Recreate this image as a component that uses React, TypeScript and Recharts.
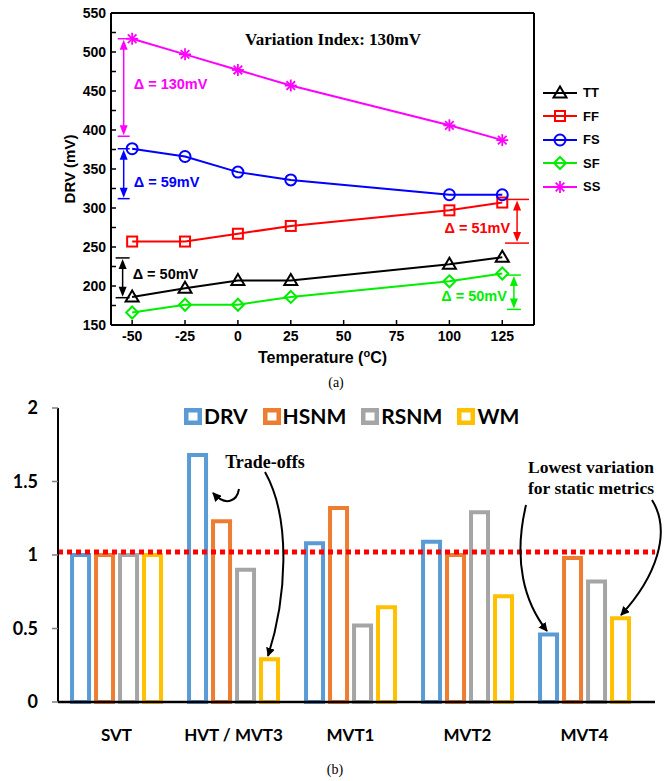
import React from "react";
import { LineChart, Line, XAxis, YAxis, ReferenceLine, Legend, BarChart, Bar } from "recharts";

// (a) DRV vs temperature per corner
const temps = [-50, -25, 0, 25, 100, 125];
const tt = [186, 197, 207, 207, 228, 237];
const ff = [257, 257, 267, 277, 297, 307];
const fs = [376, 366, 346, 336, 317, 317];
const sf = [166, 176, 176, 186, 206, 216];
const ss = [517, 497, 477, 457, 406, 387];
const tempTicks = [-50, -25, 0, 25, 50, 75, 100, 125];
const drvTicks = [150, 175, 200, 225, 250, 275, 300, 325, 350, 375, 400, 425, 450, 475, 500, 525, 550];

// spread annotations (mV)
const deltaX = [-54, -54, -54.5, 132, 130.5];
const deltaHigh = [517, 376, 236, 311, 214];
const deltaLow = [392, 312, 185, 255, 170];
const deltaText = ["Δ = 130mV", "Δ = 59mV", "Δ = 50mV", "Δ = 51mV", "Δ = 50mV"];
const deltaTextY = [459, 333, 215, 274, 187];

// (b) normalised variation
const groups = ["SVT", "HVT / MVT3", "MVT1", "MVT2", "MVT4"];
const drv = [1, 1.68, 1.08, 1.09, 0.46];
const hsnm = [1, 1.23, 1.32, 1.0, 0.98];
const rsnm = [1, 0.9, 0.52, 1.29, 0.82];
const wm = [1, 0.29, 0.645, 0.72, 0.57];
const ratioTicks = [0, 0.5, 1, 1.5, 2];
const baseline = 1.02;

const series = [
  { key: "TT", values: tt, color: "#000000", shape: "tri" },
  { key: "FF", values: ff, color: "#ff0000", shape: "sq" },
  { key: "FS", values: fs, color: "#0000ff", shape: "circ" },
  { key: "SF", values: sf, color: "#00ee00", shape: "dia" },
  { key: "SS", values: ss, color: "#ff00ff", shape: "star" },
];
const deltaColor = ["#ff00ff", "#0000ff", "#000000", "#ff0000", "#00ee00"];
const deltaCap = [6, 6, 7, 12, 7];
const deltaSide = ["right", "right", "right", "left", "left"];

const bars = [
  { key: "DRV", values: drv, color: "#5b9bd5" },
  { key: "HSNM", values: hsnm, color: "#ed7d31" },
  { key: "RSNM", values: rsnm, color: "#a5a5a5" },
  { key: "WM", values: wm, color: "#ffc000" },
];

const tempRows = temps.map((t, i) => {
  const row: any = { t };
  series.forEach((s) => (row[s.key] = s.values[i]));
  return row;
});
const groupRows = groups.map((g, i) => {
  const row: any = { g };
  bars.forEach((b) => (row[b.key] = b.values[i]));
  return row;
});

const arial = "'Liberation Sans', Arial, sans-serif";
const serif = "'Liberation Serif', 'Times New Roman', serif";
const calibri = "Lato, 'Open Sans', sans-serif";
const axisFont = { fontFamily: arial, fontWeight: 700, fontSize: 14, fill: "#000" };
const frameLine = { stroke: "#000", strokeWidth: 2 };
const frameTick = { stroke: "#000", strokeWidth: 1.5 };

function marker(shape: string, color: string, cx: number, cy: number) {
  if (shape === "tri")
    return <polygon points={`${cx},${cy - 6.5} ${cx - 6.5},${cy + 4.5} ${cx + 6.5},${cy + 4.5}`} fill="none" stroke={color} strokeWidth={2} />;
  if (shape === "sq")
    return <rect x={cx - 5} y={cy - 5} width={10} height={10} fill="none" stroke={color} strokeWidth={2} />;
  if (shape === "circ") return <circle cx={cx} cy={cy} r={5.5} fill="none" stroke={color} strokeWidth={2} />;
  if (shape === "dia")
    return <polygon points={`${cx},${cy - 6} ${cx + 6},${cy} ${cx},${cy + 6} ${cx - 6},${cy}`} fill="none" stroke={color} strokeWidth={2} />;
  return (
    <g stroke={color} strokeWidth={1.8}>
      <line x1={cx - 6} y1={cy} x2={cx + 6} y2={cy} />
      <line x1={cx} y1={cy - 6} x2={cx} y2={cy + 6} />
      <line x1={cx - 4.3} y1={cy - 4.3} x2={cx + 4.3} y2={cy + 4.3} />
      <line x1={cx - 4.3} y1={cy + 4.3} x2={cx + 4.3} y2={cy - 4.3} />
    </g>
  );
}

const dotFor = (shape: string, color: string) => (p: any) => {
  if (p.cx == null || p.cy == null) return <g key={p.key} />;
  return <g key={p.key}>{marker(shape, color, p.cx, p.cy)}</g>;
};

const deltaShape = (i: number) => (p: any) => {
  const { x1, y1, x2, y2 } = p;
  const c = deltaColor[i];
  const half = deltaCap[i];
  const perMv = (y2 - y1) / (deltaLow[i] - deltaHigh[i]);
  const ty = y1 + (deltaTextY[i] - deltaHigh[i]) * perMv;
  const right = deltaSide[i] === "right";
  return (
    <g>
      <line x1={x1 - half} x2={x1 + half} y1={y1} y2={y1} stroke={c} strokeWidth={1.5} />
      <line x1={x2 - half} x2={x2 + half} y1={y2} y2={y2} stroke={c} strokeWidth={1.5} />
      <line x1={x1} y1={y1 + 6} x2={x2} y2={y2 - 6} stroke={c} strokeWidth={1.5} />
      <polygon points={`${x1},${y1 + 1} ${x1 - 4},${y1 + 11} ${x1 + 4},${y1 + 11}`} fill={c} />
      <polygon points={`${x2},${y2 - 1} ${x2 - 4},${y2 - 11} ${x2 + 4},${y2 - 11}`} fill={c} />
      <text
        x={right ? x1 + 10 : x1 - 7}
        y={ty}
        textAnchor={right ? "start" : "end"}
        dominantBaseline="central"
        fontFamily={arial}
        fontWeight={700}
        fontSize={14.5}
        fill={c}
      >
        {deltaText[i]}
      </text>
    </g>
  );
};

const renderTempLabel = (p: any) => {
  const vb = p.viewBox || {};
  return (
    <text x={vb.x + vb.width / 2} y={vb.y + 38} textAnchor="middle" fontFamily={arial} fontWeight={700} fontSize={16} fill="#000">
      Temperature (<tspan dy={-6} fontSize={11}>o</tspan>
      <tspan dy={6}>C)</tspan>
    </text>
  );
};

const LegendA = () => (
  <div style={{ display: "flex", flexDirection: "column" }}>
    {series.map((s) => (
      <div key={s.key} style={{ display: "flex", alignItems: "center", height: 23.5 }}>
        <svg width={40} height={20}>
          <line x1={3} x2={37} y1={10} y2={10} stroke={s.color} strokeWidth={2} />
          {marker(s.shape, s.color, 20, 10)}
        </svg>
        <span style={{ fontFamily: arial, fontWeight: 700, fontSize: 13, marginLeft: 3 }}>{s.key}</span>
      </div>
    ))}
  </div>
);

const LegendB = () => (
  <div style={{ display: "flex", alignItems: "center", gap: 15 }}>
    {bars.map((b) => (
      <div key={b.key} style={{ display: "flex", alignItems: "center" }}>
        <svg width={18} height={17}>
          <rect x={2.25} y={2.25} width={13.5} height={12.5} fill="#fff" stroke={b.color} strokeWidth={4.5} />
        </svg>
        <span style={{ fontFamily: calibri, fontWeight: 700, fontSize: 21, marginLeft: 2, lineHeight: "26px" }}>{b.key}</span>
      </div>
    ))}
  </div>
);

export default function App() {
  return (
    <div style={{ position: "absolute", left: 0, top: 0, width: 671, height: 781, background: "#fff" }}>
      <div style={{ position: "absolute", left: 0, top: 0 }}>
        <LineChart width={671} height={370} data={tempRows} margin={{ top: 12, right: 136, bottom: 0, left: 0 }}>
          <XAxis
            dataKey="t"
            type="number"
            domain={[-60, 140]}
            ticks={tempTicks}
            allowDataOverflow
            interval={0}
            height={45}
            axisLine={frameLine}
            tickLine={frameTick}
            tickSize={-5}
            tickMargin={11}
            tick={axisFont}
            label={renderTempLabel}
          />
          <XAxis
            xAxisId="top"
            dataKey="t"
            orientation="top"
            type="number"
            domain={[-60, 140]}
            ticks={tempTicks}
            allowDataOverflow
            interval={0}
            height={1}
            axisLine={frameLine}
            tickLine={frameTick}
            tickSize={-5}
            tick={false}
          />
          <YAxis
            type="number"
            domain={[150, 550]}
            ticks={drvTicks}
            allowDataOverflow
            interval={0}
            width={111}
            axisLine={frameLine}
            tickLine={frameTick}
            tickSize={-5}
            tickMargin={10}
            tick={axisFont}
            tickFormatter={(v: number) => (v % 50 === 0 ? String(v) : "")}
            label={{
              value: "DRV (mV)",
              angle: -90,
              position: "insideLeft",
              offset: 70,
              style: { textAnchor: "middle", fontFamily: arial, fontWeight: 700, fontSize: 15, fill: "#000" },
            }}
          />
          <YAxis
            yAxisId="right"
            orientation="right"
            type="number"
            domain={[150, 550]}
            ticks={drvTicks}
            allowDataOverflow
            interval={0}
            width={1}
            axisLine={frameLine}
            tickLine={frameTick}
            tickSize={-5}
            tick={false}
          />
          {/* invisible series so the top/right frame axes get drawn */}
          <Line
            xAxisId="top"
            yAxisId="right"
            dataKey="TT"
            stroke="none"
            dot={false}
            activeDot={false}
            legendType="none"
            isAnimationActive={false}
          />
          {series.map((s) => (
            <Line
              key={s.key}
              dataKey={s.key}
              stroke={s.color}
              strokeWidth={2}
              dot={dotFor(s.shape, s.color)}
              activeDot={false}
              isAnimationActive={false}
            />
          ))}
          {deltaX.map((x, i) => (
            <ReferenceLine
              key={i}
              segment={[
                { x, y: deltaHigh[i] },
                { x, y: deltaLow[i] },
              ]}
              ifOverflow="visible"
              shape={deltaShape(i)}
            />
          ))}
          <Legend
            layout="horizontal"
            verticalAlign="middle"
            align="center"
            wrapperStyle={{ top: 81, left: 540, width: 90 }}
            content={() => <LegendA />}
          />
        </LineChart>
      </div>

      <div style={{ position: "absolute", left: 0, top: 390 }}>
        <BarChart
          width={671}
          height={391}
          data={groupRows}
          margin={{ top: 18, right: 16, bottom: 0, left: 0 }}
          barCategoryGap="12%"
          barGap={7}
        >
          <XAxis
            dataKey="g"
            height={79}
            interval={0}
            padding={{ left: 0, right: 12 }}
            axisLine={{ stroke: "#000", strokeWidth: 2.5 }}
            tickLine={false}
            tickSize={0}
            tickMargin={27}
            tick={{ fontFamily: calibri, fontWeight: 700, fontSize: 17, fill: "#000" }}
          />
          <YAxis
            domain={[0, 2]}
            ticks={ratioTicks}
            interval={0}
            width={58}
            axisLine={{ stroke: "#000", strokeWidth: 2 }}
            tickLine={{ stroke: "#7f7f7f", strokeWidth: 1.5 }}
            tickSize={6}
            tickMargin={14}
            tick={{ fontFamily: calibri, fontWeight: 700, fontSize: 18, fill: "#000" }}
          />
          {bars.map((b) => (
            <Bar key={b.key} dataKey={b.key} fill="#fff" stroke={b.color} strokeWidth={4} isAnimationActive={false} />
          ))}
          <ReferenceLine y={baseline} stroke="#ff0000" strokeWidth={5} strokeDasharray="5 4" ifOverflow="visible" />
          <Legend
            layout="horizontal"
            verticalAlign="middle"
            align="center"
            wrapperStyle={{ top: 13, left: 184, width: 400 }}
            content={() => <LegendB />}
          />
        </BarChart>
      </div>

      <svg width={671} height={781} style={{ position: "absolute", left: 0, top: 0, pointerEvents: "none" }}>
        <defs>
          <marker id="ah" viewBox="0 0 10 10" refX="9" refY="5" markerWidth="9" markerHeight="9" orient="auto" markerUnits="userSpaceOnUse">
            <path d="M0,0 L10,5 L0,10 z" fill="#000" />
          </marker>
        </defs>
        <text x={245} y={45} fontFamily={serif} fontWeight={700} fontSize={17} fill="#000">
          Variation Index: 130mV
        </text>
        <text x={336} y={387} textAnchor="middle" fontFamily={serif} fontSize={14} fill="#000">
          (a)
        </text>
        <text x={335} y={774} textAnchor="middle" fontFamily={serif} fontSize={14} fill="#000">
          (b)
        </text>
        <text x={265} y={468} textAnchor="middle" fontFamily={serif} fontWeight={700} fontSize={18} fill="#000">
          Trade-offs
        </text>
        <text x={591} y={473} textAnchor="middle" fontFamily={serif} fontWeight={700} fontSize={17.5} fill="#000">
          Lowest variation
        </text>
        <text x={591} y={494} textAnchor="middle" fontFamily={serif} fontWeight={700} fontSize={17.5} fill="#000">
          for static metrics
        </text>
        <g fill="none" stroke="#000" strokeWidth={2}>
          <path d="M239,489 C237,501 226,507 213,493" markerEnd="url(#ah)" />
          <path d="M265,472 C292,520 286,600 268,656" markerEnd="url(#ah)" />
          <path d="M526,505 C513,560 524,602 547,631" markerEnd="url(#ah)" />
          <path d="M652,500 C672,532 656,577 621,615" markerEnd="url(#ah)" />
        </g>
      </svg>
    </div>
  );
}
